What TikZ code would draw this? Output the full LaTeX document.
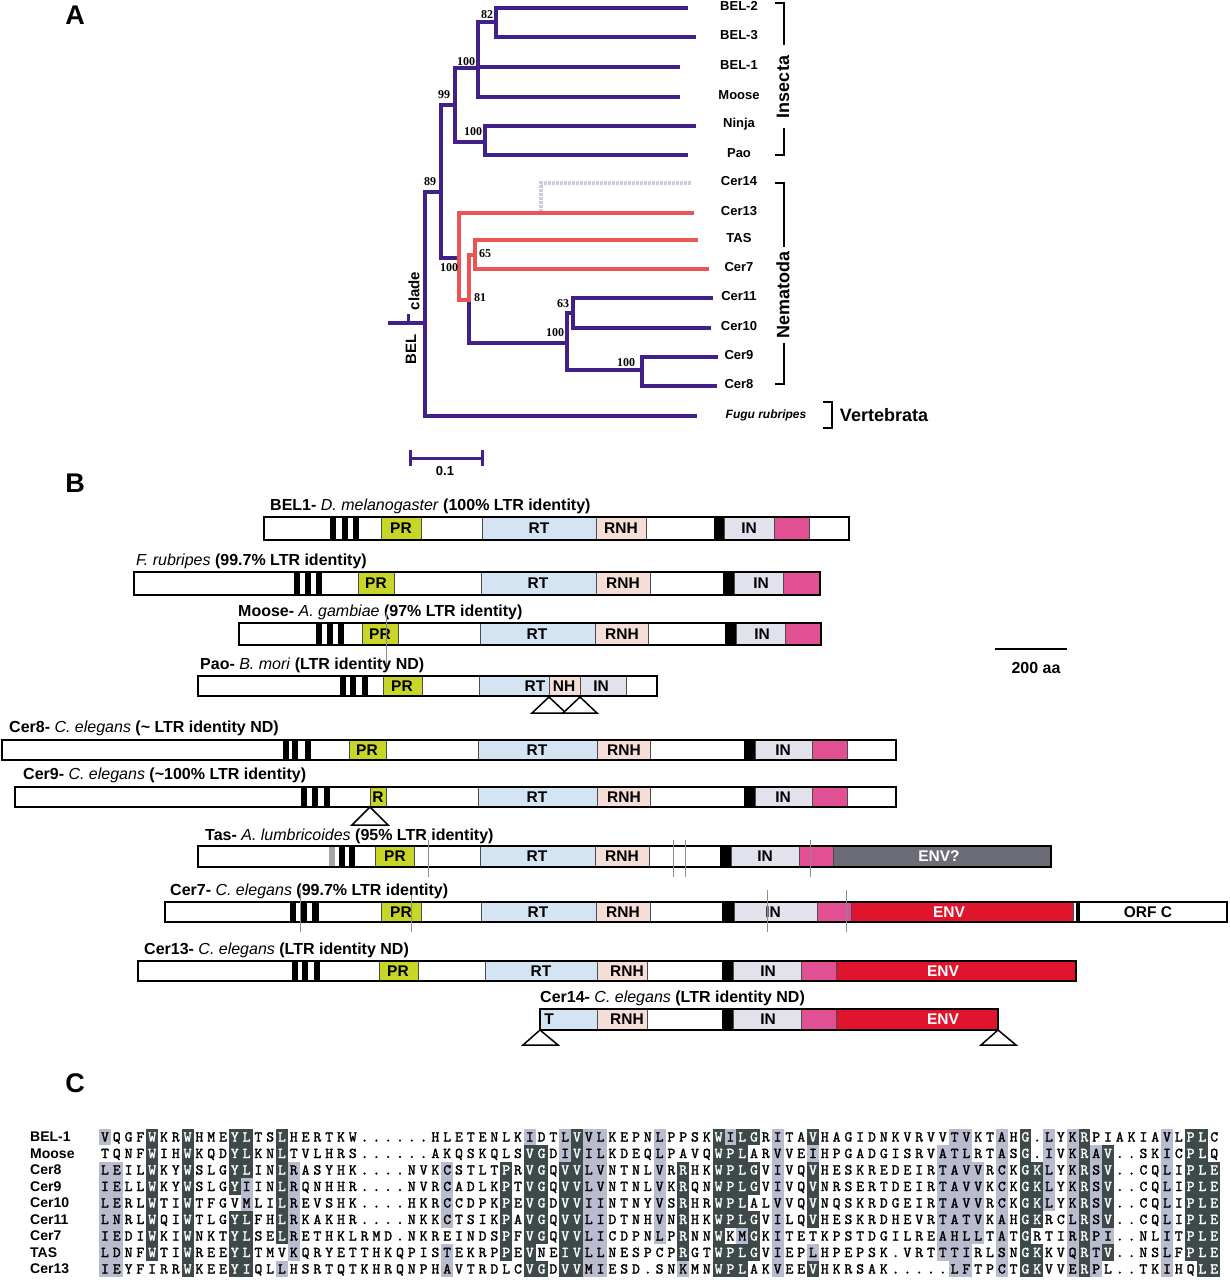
\documentclass[tikz,border=0pt]{standalone}
\usepackage{fontspec}
\setmainfont{Liberation Sans}
\newfontfamily\bootfont{Liberation Serif}
\newfontfamily\seqfont[FakeBold=1.6]{lmmono10-regular.otf}
\usepackage{xstring}
\definecolor{treeblue}{RGB}{66,32,140}
\definecolor{treered}{RGB}{236,84,84}
\definecolor{ghostgrey}{RGB}{205,205,218}
\definecolor{prgreen}{RGB}{200,214,40}
\definecolor{rtblue}{RGB}{212,228,243}
\definecolor{rnhpeach}{RGB}{245,222,215}
\definecolor{ingrey}{RGB}{226,226,236}
\definecolor{pinkdom}{RGB}{226,80,148}
\definecolor{envred}{RGB}{224,20,44}
\definecolor{envgrey}{RGB}{108,108,118}
\definecolor{cellDark}{RGB}{62,74,74}
\definecolor{cellLight}{RGB}{184,188,206}
\newcommand{\orfrow}[7]{%
  \fill[white] (#4,#2) rectangle (#5,#3);
  \foreach \xa/\xb/\st in {#6} {\filldraw[\st] (\xa,#2) rectangle (\xb,#3);}
  \draw[orfline] (#4,#2) rectangle (#5,#3);
  \foreach \lx/\lb/\st [count=\k] in {#7} {\node[\st] (#1-l\k) at (\lx,{(#2+#3)/2}) {\lb};}
}
\newcommand{\alnA}{VQGFWKRWHMEYLTSLHERTKW......HLETENLKIDTLVVLKEPNLPPSKWILGRITAVHAGIDNKVRVVTVKTAHG.LYKRPIAKIAVLPLC}
\newcommand{\alnB}{TQNFWIHWKQDYLKNLTVLHRS......AKQSKQLSVGDIVILKDEQLPAVQWPLARVVEIHPGADGISRVATLRTASG.IVKRAV..SKICPLQ}
\newcommand{\alnC}{LEILWKYWSLGYLINLRASYHK....NVKCSTLTPRVGQVVLVNTNLVRRHKWPLGVIVQVHESKREDEIRTAVVRCKGKLYKRSV..CQLIPLE}
\newcommand{\alnD}{IELLWKYWSLGYIINLRQNHHR....NVRCADLKPTVGQVVLVNTNLVKRQNWPLGVIVQVNRSERTDEIRTAVVKCKGKLYKRSV..CQLIPLE}
\newcommand{\alnE}{LERLWTIWTFGVMLILREVSHK....HKRCCDPKPEVGDVVIINTNYVSRHRWPLALVVQVNQSKRDGEIRTAVVRCKGKLYKRSV..CQLIPLE}
\newcommand{\alnF}{LNRLWQIWTLGYLFHLRKAKHR....NKKCTSIKPAVGQVVLIDTNHVNRHKWPLGVILQVHESKRDHEVRTATVKAHGKRCLRSV..CQLIPLE}
\newcommand{\alnG}{IEDIWKIWNKTYLSELRETHKLRMD.NKREINDSPFVGQVVLICDPNLPRNNWKMGKITETKPSTDGILREAHLLTATGRTIRRPI..NLITPLE}
\newcommand{\alnH}{LDNFWTIWREEYLTMVKQRYETTHKQPISTEKRPPEVNEIVLLNESPCPRGTWPLGVIEPLHPEPSK.VRTTTIRLSNGKKVQRTV..NSLFPLE}
\newcommand{\alnI}{IEYFIRRWKEEYIQLLHSRTQTKHRQNPHAVTRDLCVGDVVMIESD.SNKMNWPLAKVEEVHKRSAK.....LFTPCTGKVVERPL..TKIHQLE}

\begin{document}
\begin{tikzpicture}[x=1pt,y=-1pt,
  every node/.style={inner sep=0pt},
  branch/.style={draw=treeblue,line width=4pt,line cap=rect},
  branchred/.style={draw=treered,line width=4pt,line cap=rect},
  ghost/.style={draw=ghostgrey,line width=4pt,dash pattern=on 3pt off 1pt},
  bracket/.style={draw=black,line width=1.4pt},
  boot/.style={font=\bootfont\bfseries\fontsize{12}{12}\selectfont},
  leaf/.style={font=\bfseries\fontsize{13}{13}\selectfont},
  taxon/.style={font=\bfseries\fontsize{18}{18}\selectfont},
  panel/.style={font=\bfseries\fontsize{27}{27}\selectfont},
  maptitle/.style={anchor=west,font=\fontsize{16}{16}\selectfont},
  orfline/.style={draw=black,line width=2pt},
  dPR/.style={fill=prgreen,draw=black!70,line width=0.8pt},
  dRT/.style={fill=rtblue,draw=black!70,line width=0.8pt},
  dRNH/.style={fill=rnhpeach,draw=black!70,line width=0.8pt},
  dIN/.style={fill=ingrey,draw=black!70,line width=0.8pt},
  dPK/.style={fill=pinkdom,draw=black!70,line width=0.8pt},
  dENV/.style={fill=envred,draw=black!70,line width=0.8pt},
  dENVq/.style={fill=envgrey,draw=black!70,line width=0.8pt},
  dBAR/.style={fill=black,draw=none},
  dGBAR/.style={fill=gray!70,draw=none},
  dWH/.style={fill=white,draw=black,line width=1.6pt},
  dlab/.style={font=\bfseries\fontsize{15.5}{15.5}\selectfont},
  elab/.style={dlab,text=white},
  tri/.style={draw=black,fill=white,line width=1.5pt,line join=miter},
  cut/.style={draw=black!45,line width=0.9pt},
  lightcell/.style={fill=cellLight},
  darkcell/.style={fill=cellDark},
  seqchar/.style={anchor=base,font=\seqfont\fontsize{15}{15}\selectfont},
  seqname/.style={anchor=base west,font=\bfseries\fontsize{14}{14}\selectfont}
]
\fill[white] (0,0) rectangle (1230,1280);
\useasboundingbox (0,0) rectangle (1230,1280);

\node[panel] (pA) at (75,15) {A};
\node[panel] (pB) at (75,483) {B};
\node[panel] (pC) at (75,1083) {C};

\foreach \nm/\txt/\xe/\y in {BEL2/BEL-2/686/8,BEL3/BEL-3/694/37,BEL1/BEL-1/678/67,Moose/Moose/678/97,
  Ninja/Ninja/694/126,Pao/Pao/686/155,Cer14/Cer14/691/183,Cer13/Cer13/692/213,TAS/TAS/696/240,
  Cer7/Cer7/707/269,Cer11/Cer11/711/298,Cer10/Cer10/709/328,Cer9/Cer9/716/357,Cer8/Cer8/715/386} {
  \coordinate (leaf-\nm) at (\xe,\y);
  \node[leaf] (lbl-\nm) at (739,\y-2) {\txt};
}
\coordinate (leaf-Fugu) at (695,416);
\node[leaf,font=\bfseries\itshape\fontsize{12}{12}\selectfont] (lbl-Fugu) at (766,415) {Fugu rubripes};

\coordinate (n82) at (496,22);
\coordinate (nbel) at (478,68);
\coordinate (npao) at (485,142);
\coordinate (n99) at (455,105);
\coordinate (n89) at (441,192);
\coordinate (nnem) at (459,258);
\coordinate (n81) at (469,300);
\coordinate (n65) at (475,255);
\coordinate (ncer) at (567,343);
\coordinate (n63) at (573,313);
\coordinate (ncer98) at (642,370);
\coordinate (nroot) at (425,323);
\coordinate (stem) at (390,323);
\coordinate (n14) at (541,213);

\draw[ghost] (leaf-Cer14) -| (n14);
\draw[branch] (leaf-BEL2) -| (n82) |- (leaf-BEL3);
\draw[branch] (n82) -| (nbel) |- (leaf-Moose);
\draw[branch] (nbel |- leaf-BEL1) -- (leaf-BEL1);
\draw[branch] (nbel) -| (n99) |- (npao);
\draw[branch] (leaf-Ninja) -| (npao) |- (leaf-Pao);
\draw[branch] (n99) -| (n89) |- (nnem);
\draw[branch] (n89) -| (nroot) |- (leaf-Fugu);
\draw[branch] (stem) -- (nroot);
\draw[branch] (n81) |- (ncer);
\draw[branch] (n63) -| (ncer) |- (ncer98);
\draw[branch] (leaf-Cer11) -| (n63) |- (leaf-Cer10);
\draw[branch] (leaf-Cer9) -| (ncer98) |- (leaf-Cer8);
\draw[branchred] (leaf-Cer13) -| (nnem) |- (n81);
\draw[branchred] (leaf-TAS) -| (n65) |- (leaf-Cer7);
\draw[branchred] (n65) -| (n81);

\node[boot] (b82) at (487,15) {82};
\node[boot] (bbel) at (466,62) {100};
\node[boot] (b99) at (444,95) {99};
\node[boot] (bpao) at (473,132) {100};
\node[boot] (b89) at (430,182) {89};
\node[boot] (bnem) at (449,268) {100};
\node[boot] (b65) at (485,254) {65};
\node[boot] (b81) at (480,298) {81};
\node[boot] (b63) at (563,304) {63};
\node[boot] (bcer) at (555,333) {100};
\node[boot] (bcer98) at (626,363) {100};

\coordinate (tick) at (408,314);
\draw[branch,line width=3pt,line cap=butt] (tick) -- (tick |- stem);
\node[taxon,rotate=90,font=\bfseries\fontsize{15}{15}\selectfont] (clade) at (414,291) {clade};
\node[taxon,rotate=90,font=\bfseries\fontsize{15}{15}\selectfont] (bel) at (411,349) {BEL};

\draw[bracket] (775,3) -- (784,3) -- (784,45);
\draw[bracket] (784,128) -- (784,155) -- (775,155);
\node[taxon,rotate=90] (insecta) at (783,87) {Insecta};
\draw[bracket] (775,183) -- (784,183) -- (784,247);
\draw[bracket] (784,343) -- (784,384) -- (775,384);
\node[taxon,rotate=90] (nematoda) at (783,295) {Nematoda};
\draw[bracket] (823,402) -- (832,402) -- (832,428) -- (823,428);
\node[taxon] (vert) at (884,415) {Vertebrata};

\draw[branch,line width=3pt,line cap=butt] (410,458) -- (482,458);
\draw[branch,line width=3pt,line cap=butt] (410,450) -- (410,466);
\draw[branch,line width=3pt,line cap=butt] (482,450) -- (482,466);
\node[leaf] (scaleA) at (445,471) {0.1};

\node[maptitle] (ttl-bel) at (270,506) {\textbf{BEL1-} \textit{D. melanogaster} \textbf{(100\% LTR identity)}};
\orfrow{bel}{517}{540}{264}{849}{330/336/dBAR,342/348/dBAR,353/359/dBAR,381/421/dPR,482/596/dRT,596/646/dRNH,714/724/dBAR,724/774/dIN,774/809/dPK}{401/PR/dlab,539/RT/dlab,621/RNH/dlab,749/IN/dlab}
\node[maptitle] (ttl-fru) at (136,561) {\textit{F. rubripes} \textbf{(99.7\% LTR identity)}};
\orfrow{fru}{572}{595}{134}{820}{294/300/dBAR,305/311/dBAR,316/322/dBAR,358/394/dPR,481/596/dRT,596/650/dRNH,723/734/dBAR,734/783/dIN,783/820/dPK}{376/PR/dlab,538/RT/dlab,623/RNH/dlab,761/IN/dlab}
\node[maptitle] (ttl-moo) at (238,612) {\textbf{Moose-} \textit{A. gambiae} \textbf{(97\% LTR identity)}};
\orfrow{moo}{623}{645}{239}{821}{316/322/dBAR,327/333/dBAR,338/344/dBAR,362/398/dPR,480/595/dRT,595/648/dRNH,725/736/dBAR,736/785/dIN,785/821/dPK}{380/PR/dlab,537/RT/dlab,622/RNH/dlab,762/IN/dlab}
\draw[cut] (386,612) -- (386,668);
\node[maptitle] (ttl-pao) at (200,665) {\textbf{Pao-} \textit{B. mori} \textbf{(LTR identity ND)}};
\orfrow{pao}{676}{696}{198}{657}{340/346/dBAR,350/356/dBAR,362/368/dBAR,383/422/dPR,479/549/dRT,549/580/dRNH,580/626/dIN}{402/PR/dlab,535/RT/dlab,564/NH/dlab,601/IN/dlab}
\draw[tri] (549,697) -- (532,713) -- (566,713) -- cycle;
\draw[tri] (580,697) -- (563,713) -- (597,713) -- cycle;

\draw[line width=2pt] (995,649) -- (1067,649);
\node[font=\bfseries\fontsize{16}{16}\selectfont] (aa) at (1036,668) {200 aa};

\node[maptitle] (ttl-ce8) at (9,728) {\textbf{Cer8-} \textit{C. elegans} \textbf{(\textasciitilde{} LTR identity ND)}};
\orfrow{ce8}{740}{760}{2}{896}{283/289/dBAR,292/298/dBAR,305/311/dBAR,349/386/dPR,478/597/dRT,597/650/dRNH,744/755/dBAR,755/812/dIN,812/847/dPK}{367/PR/dlab,537/RT/dlab,624/RNH/dlab,783/IN/dlab}
\node[maptitle] (ttl-ce9) at (23,775) {\textbf{Cer9-} \textit{C. elegans} \textbf{(\textasciitilde 100\% LTR identity)}};
\orfrow{ce9}{787}{807}{15}{896}{301/307/dBAR,312/318/dBAR,324/330/dBAR,370/386/dPR,478/597/dRT,597/650/dRNH,744/755/dBAR,755/812/dIN,812/847/dPK}{378/R/dlab,537/RT/dlab,624/RNH/dlab,783/IN/dlab}
\draw[tri] (370,807) -- (352,825) -- (388,825) -- cycle;
\node[maptitle] (ttl-tas) at (205,836) {\textbf{Tas-} \textit{A. lumbricoides} \textbf{(95\% LTR identity)}};
\orfrow{tas}{846}{867}{198}{1051}{329/335/dGBAR,339/345/dBAR,349/355/dBAR,375/414/dPR,480/595/dRT,595/649/dRNH,720/731/dBAR,731/799/dIN,799/833/dPK,833/1051/dENVq}{395/PR/dlab,537/RT/dlab,622/RNH/dlab,765/IN/dlab,939/ENV?/elab}
\foreach \xc in {428,673,685,810} {\draw[cut] (\xc,840) -- (\xc,877);}
\node[maptitle] (ttl-ce7) at (170,891) {\textbf{Cer7-} \textit{C. elegans} \textbf{(99.7\% LTR identity)}};
\orfrow{ce7}{902}{922}{165}{1227}{290/296/dBAR,301/307/dBAR,312/319/dBAR,381/421/dPR,481/596/dRT,596/650/dRNH,722/734/dBAR,734/817/dIN,817/851/dPK,851/1073/dENV,1076/1079/dBAR,1079/1227/dWH}{401/PR/dlab,538/RT/dlab,623/RNH/dlab,773/IN/dlab,949/ENV/elab,1148/ORF C/dlab}
\foreach \xc/\ya in {300/890,411/895,767/890,846/890} {\draw[cut] (\xc,\ya) -- (\xc,932);}
\node[maptitle] (ttl-c13) at (144,950) {\textbf{Cer13-} \textit{C. elegans} \textbf{(LTR identity ND)}};
\orfrow{c13}{961}{981}{138}{1076}{292/298/dBAR,302/308/dBAR,314/320/dBAR,379/418/dPR,485/597/dRT,597/647/dRNH,722/733/dBAR,733/801/dIN,801/836/dPK,836/1076/dENV}{398/PR/dlab,541/RT/dlab,627/RNH/dlab,768/IN/dlab,943/ENV/elab}
\node[maptitle] (ttl-c14) at (540,998) {\textbf{Cer14-} \textit{C. elegans} \textbf{(LTR identity ND)}};
\orfrow{c14}{1009}{1030}{540}{998}{540/597/dRT,597/647/dRNH,722/733/dBAR,733/801/dIN,801/836/dPK,836/998/dENV}{549/T/dlab,627/RNH/dlab,768/IN/dlab,943/ENV/elab}
\draw[tri] (540,1030) -- (523,1045) -- (558,1045) -- cycle;
\draw[tri] (998,1030) -- (981,1045) -- (1016,1045) -- cycle;

\foreach \c/\rs in {1/{1,3,4,5,6,7,8,9},2/{3,...,9},13/{4,5},16/{9},17/{3,...,8},30/{3,4,5,6,8,9},37/{1},
  40/{1,2},42/{1,...,9},43/{1,...,9},48/{1,...,7},50/{9},54/{1},55/{7},58/{1,...,9},61/{2,8},
  72/{2,...,8},73/{1,...,9},74/{1,...,9},75/{3,...,7},77/{1,...,9},81/{1,...,5},83/{1,...,9},
  85/{2,...,9},86/{7},91/{1,...,9}} {
  \foreach \r in \rs {\fill[lightcell] ({105+(\c-1)*11.8-5.9},{1128.75+(\r-1)*16.5}) rectangle ++(11.8,16.5);}
}
\foreach \c/\rs in {5/{1,...,8},8/{1,...,9},12/{1,2,3,4,6,7,8,9},13/{1,2,3,6,7,8,9},16/{1,...,7},
  35/{3,...,8},37/{2,...,9},38/{2,3,4,5,6,7,9},40/{3,...,9},41/{1,...,9},50/{3,...,8},53/{1,...,9},
  54/{2,3,4,5,6,8,9},55/{1,2,3,4,5,6,8,9},56/{1,3,4,6,7,8},61/{1,3,4,5,6,9},79/{1,...,9},
  80/{3,4,5,6,8,9},84/{1,...,9},86/{2,3,4,5,6,8},93/{1,...,8},94/{1,...,9},95/{3,...,9}} {
  \foreach \r in \rs {
    \fill[darkcell] ({105+(\c-1)*11.8-5.9},{1128.75+(\r-1)*16.5}) rectangle ++(11.8,16.5);
    \expandafter\gdef\csname dk\r-\c\endcsname{}
  }
}
\foreach \r/\nm/\sq in {1/BEL-1/\alnA,2/Moose/\alnB,3/Cer8/\alnC,4/Cer9/\alnD,5/Cer10/\alnE,
  6/Cer11/\alnF,7/Cer7/\alnG,8/TAS/\alnH,9/Cer13/\alnI} {
  \node[seqname] (lab-\r) at (30,{1141.5+(\r-1)*16.5}) {\nm};
  \foreach \c in {1,...,95} {
    \StrChar{\sq}{\c}[\ch]
    \ifcsname dk\r-\c\endcsname\def\lc{white}\else\def\lc{black}\fi
    \node[seqchar,text=\lc] (a\r-\c) at ({105+(\c-1)*11.8},{1141.5+(\r-1)*16.5}) {\ch};
  }
}
\end{tikzpicture}
\end{document}
